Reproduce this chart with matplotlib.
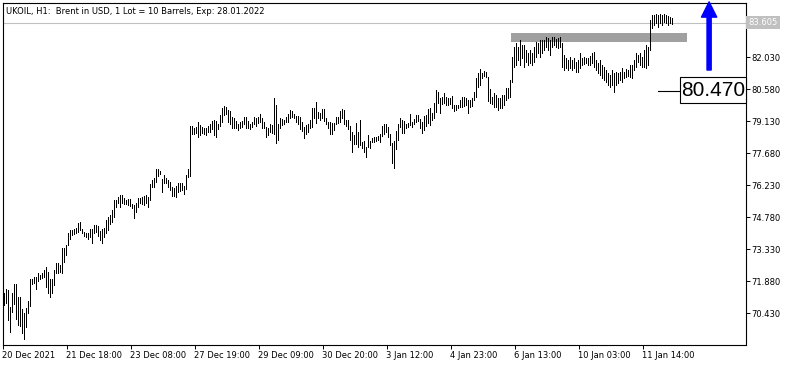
import numpy as np
import matplotlib.pyplot as plt
from matplotlib.patches import Rectangle

title = 'UKOIL, H1:  Brent in USD, 1 Lot = 10 Barrels, Exp: 28.01.2022'

# H1 bar highs / lows (20 Dec 2021 .. 11 Jan 2022)
highs = [
    # 20 - 21 Dec
    71.36, 71.54, 71.49, 70.72, 71.36, 71.77, 71.77, 71.18, 71.18, 70.63,
    70.45, 70.68, 70.99, 71.99, 71.99, 72.08, 72.08, 72.26, 72.17, 72.26,
    72.40, 72.54, 72.31, 71.99, 71.99, 72.40, 72.72, 72.72, 72.63, 73.40,
    73.40, 73.53, 74.08, 74.21, 74.21, 74.26, 74.30, 74.53, 74.57, 74.26,
    74.12, 74.08, 74.08, 74.26, 74.26, 74.44, 74.44, 74.39,
    # 21 - 27 Dec
    74.17, 74.26, 74.30, 74.66, 74.80, 74.89, 75.12, 75.57, 75.57, 75.71,
    75.80, 75.80, 75.66, 75.57, 75.61, 75.61, 75.39, 75.34, 75.43, 75.66,
    75.66, 75.71, 75.75, 75.80, 75.71, 76.30, 76.48, 76.57, 76.97, 76.97,
    76.88, 76.52, 76.70, 76.57, 76.48, 76.39, 76.16, 76.11, 76.20, 76.34,
    76.34, 76.34, 76.20, 76.70, 76.97, 78.92, 78.92, 78.83,
    # 27 - 30 Dec
    78.88, 79.10, 78.97, 78.88, 78.83, 78.83, 78.92, 79.01, 79.15, 79.19,
    79.15, 79.01, 79.42, 79.74, 79.83, 79.78, 79.65, 79.60, 79.33, 79.29,
    79.15, 79.01, 79.10, 79.15, 79.33, 79.33, 79.15, 79.01, 79.10, 79.33,
    79.29, 79.33, 79.47, 79.29, 79.10, 78.88, 78.83, 79.01, 78.97, 80.19,
    79.87, 79.01,
    # 30 Dec - 3 Jan
    79.29, 79.24, 79.19, 79.33, 79.47, 79.65, 79.60, 79.47, 79.38, 79.38,
    79.33, 79.10, 78.88, 78.97, 79.01, 79.19, 79.74, 79.74, 80.01, 79.56,
    79.51, 79.69, 79.69, 79.29, 79.10, 79.10, 79.06, 79.06, 79.33, 79.33,
    79.60, 79.69, 79.65, 79.19, 79.19, 78.92, 78.65, 78.51, 79.06, 78.65,
    79.19, 78.20, 78.24, 77.97, 78.51, 78.24, 78.38, 78.42, 78.42, 78.47,
    78.56, 78.92, 79.01, 79.01, 78.88,
    # 3 - 5 Jan
    78.56, 78.15, 78.24, 78.70, 79.01, 79.29, 79.19, 79.15, 79.01, 79.06,
    79.47, 79.10, 79.24, 79.42, 79.42, 79.24, 79.10, 79.38, 79.42, 79.69,
    79.74, 79.51, 79.96, 80.55, 80.46, 80.19, 80.24, 80.42, 80.24, 80.19,
    80.19, 80.28, 79.87, 79.87, 79.87, 80.10, 80.24, 80.24, 80.19, 80.10,
    80.10, 80.19, 80.46, 81.10, 81.32, 81.50, 81.32, 81.41, 81.37, 81.14,
    80.60, 80.24, 80.42,
    # 5 - 11 Jan
    80.33, 80.19, 80.19, 80.33, 80.33, 80.64, 80.64, 81.01, 82.05, 82.50,
    82.68, 82.50, 82.82, 82.59, 82.59, 82.37, 82.23, 82.37, 82.23, 82.50,
    82.73, 82.68, 82.82, 82.82, 82.82, 82.95, 82.91, 82.82, 82.95, 82.95,
    82.86, 82.91, 82.95, 82.68, 82.14, 82.00, 81.91, 82.05, 81.91, 82.00,
    81.82, 81.91, 82.23, 82.00, 82.05, 82.00, 82.00, 82.09, 82.23, 82.27,
    81.91, 81.78, 81.91, 81.69, 81.60, 81.46, 81.32, 81.23, 81.46, 81.32,
    81.37, 81.32, 81.37, 81.55, 81.37, 81.50, 81.46, 81.69, 81.69, 81.91,
    82.23, 82.14, 82.23, 82.05, 82.37, 82.59, 82.50, 83.72, 83.95, 83.95,
    83.99, 83.95, 83.99, 83.95, 83.99, 83.95, 83.91, 83.86, 83.81,
]

lows = [
    70.81, 70.90, 70.13, 69.59, 70.50, 70.86, 70.18, 69.91, 69.86, 69.55,
    69.27, 69.82, 70.45, 70.77, 71.77, 71.81, 71.54, 71.90, 71.99, 72.04,
    72.08, 71.63, 71.36, 71.18, 71.36, 71.72, 72.26, 72.26, 72.31, 72.26,
    72.76, 73.08, 73.53, 73.80, 73.98, 74.03, 74.08, 74.12, 74.21, 74.08,
    73.94, 73.89, 73.80, 73.89, 73.62, 74.08, 74.12, 73.94,

    73.76, 73.62, 73.89, 74.08, 74.21, 74.48, 74.57, 74.80, 75.25, 75.43,
    75.25, 75.43, 75.39, 75.39, 75.34, 75.30, 75.21, 74.75, 75.03, 75.25,
    75.43, 75.39, 75.34, 75.43, 75.25, 75.57, 76.16, 76.16, 76.39, 76.66,
    76.75, 75.93, 76.34, 76.34, 76.16, 76.02, 75.75, 75.75, 75.71, 75.93,
    75.98, 76.02, 75.84, 76.07, 76.61, 76.66, 78.55, 78.55,

    78.60, 78.42, 78.51, 78.60, 78.55, 78.51, 78.65, 78.65, 78.79, 78.51,
    78.42, 78.79, 78.92, 79.10, 79.42, 79.47, 79.10, 79.01, 78.83, 78.83,
    78.83, 78.74, 78.83, 78.88, 79.01, 78.83, 78.83, 78.79, 78.88, 79.01,
    78.92, 79.06, 79.10, 78.83, 78.83, 78.42, 78.51, 78.65, 78.60, 78.55,
    78.15, 78.29,

    78.83, 78.97, 79.01, 79.10, 79.10, 79.29, 79.33, 79.29, 79.10, 79.01,
    78.79, 78.70, 78.38, 78.55, 78.65, 78.83, 78.88, 79.29, 79.06, 79.29,
    79.19, 79.29, 79.15, 79.01, 78.83, 78.55, 78.55, 78.74, 79.01, 79.06,
    79.10, 79.29, 79.01, 78.92, 78.79, 78.29, 77.74, 78.11, 78.11, 77.97,
    78.06, 77.93, 77.74, 77.52, 77.97, 77.93, 78.20, 78.20, 78.24, 78.29,
    78.20, 78.47, 78.56, 78.65, 78.42,

    78.06, 77.25, 77.02, 77.88, 78.29, 78.88, 78.60, 78.60, 78.83, 78.88,
    78.97, 78.88, 79.01, 79.10, 79.15, 78.83, 78.60, 78.74, 78.92, 79.06,
    78.97, 79.19, 79.29, 79.56, 79.96, 79.51, 79.92, 79.96, 79.87, 79.87,
    79.92, 79.74, 79.60, 79.65, 79.74, 79.78, 79.78, 79.83, 79.87, 79.51,
    79.78, 79.83, 80.10, 80.24, 80.69, 80.78, 81.10, 81.19, 81.14, 80.05,
    79.96, 79.92, 79.78,

    79.78, 79.65, 79.74, 79.74, 79.87, 80.10, 80.19, 80.24, 80.92, 81.60,
    81.69, 81.91, 81.69, 82.00, 81.60, 81.82, 81.69, 81.78, 81.69, 81.82,
    82.05, 82.23, 82.05, 82.23, 82.37, 82.50, 82.37, 82.14, 82.50, 82.59,
    82.50, 82.46, 82.50, 81.60, 81.46, 81.55, 81.46, 81.55, 81.46, 81.55,
    81.37, 81.37, 81.55, 81.69, 81.73, 81.78, 81.69, 81.69, 81.78, 81.60,
    81.46, 81.32, 81.23, 81.10, 81.01, 80.92, 80.78, 80.69, 80.78, 80.46,
    80.78, 80.87, 81.01, 80.92, 81.10, 81.14, 81.19, 81.14, 81.10, 81.46,
    81.60, 81.82, 81.69, 81.60, 81.60, 81.55, 81.69, 82.37, 83.36, 83.50,
    83.59, 83.41, 83.59, 83.50, 83.63, 83.59, 83.50, 83.59, 83.54,
]

time_labels = ['20 Dec 2021', '21 Dec 18:00', '23 Dec 08:00', '27 Dec 19:00',
               '29 Dec 09:00', '30 Dec 20:00', '3 Jan 12:00', '4 Jan 23:00',
               '6 Jan 13:00', '10 Jan 03:00', '11 Jan 14:00']
bars_per_label = 32
price_ticks = [70.43, 71.88, 73.33, 74.78, 76.23, 77.68, 79.13, 80.58, 82.03, 83.48]

last_price = 83.605
zone_low, zone_high = 82.74, 83.12      # grey resistance zone
zone_start, zone_end = 254, 342         # in bars
target_price = 80.470
target_y = 80.53
arrow_bar, arrow_from, arrow_to = 353.3, 81.46, 84.55

x = np.arange(len(highs)) + 0.75

fig = plt.figure(figsize=(7.93, 3.66), dpi=100)
ax = fig.add_axes([2.5 / 793, 21 / 366, 743 / 793, 342.5 / 366])

ax.axhline(last_price, color='#c0c0c0', lw=0.8, zorder=1)
ax.add_patch(Rectangle((zone_start, zone_low), zone_end - zone_start, zone_high - zone_low,
                       color='#a0a0a0', lw=0, zorder=1.5))
ax.vlines(x, lows, highs, colors='black', lw=0.6, antialiased=False, zorder=2)

# blue arrow
ax.annotate('', xy=(arrow_bar, arrow_to), xytext=(arrow_bar, arrow_from),
            arrowprops=dict(arrowstyle='simple,head_length=1.1,head_width=1.1,tail_width=0.3',
                            color='#0000ff', shrinkA=0, shrinkB=0, mutation_scale=10),
            annotation_clip=False, zorder=4)

# target label
ax.plot([327.75, 338.75], [target_y, target_y], color='black', lw=0.8, zorder=3)
ax.add_patch(Rectangle((338.75, 79.96), 371.5 - 338.75, 81.14 - 79.96,
                       facecolor='white', edgecolor='black', lw=0.8, zorder=3, clip_on=False))
ax.text((338.75 + 371.5) / 2, target_y, f'{target_price:.3f}', fontsize=15,
        family='Liberation Sans', ha='center', va='center', zorder=4)

ax.set_xlim(0, 371.5)
ax.set_ylim(69.0, 84.52)

ax.set_xticks(np.arange(len(time_labels)) * bars_per_label)
ax.set_xticklabels(time_labels, fontsize=6, ha='left')
ax.tick_params(axis='x', direction='out', length=3, width=0.7, pad=1)

ax.yaxis.tick_right()
ax.set_yticks(price_ticks)
# the top tick label sits under the last-price box
ax.set_yticklabels([f'{p:.3f}' for p in price_ticks[:-1]] + [''], fontsize=6)
ax.tick_params(axis='y', direction='out', length=3, width=0.7, pad=1)

for s in ax.spines.values():
    s.set_linewidth(0.8)

ax.text(1.004, last_price, f'{last_price:.3f}', transform=ax.get_yaxis_transform(),
        fontsize=6, color='white', ha='left', va='center', zorder=5, clip_on=False,
        bbox=dict(boxstyle='square,pad=0.25', facecolor='#c0c0c0', edgecolor='none'))

ax.text(0.005, 0.975, title, transform=ax.transAxes, fontsize=6, ha='left', va='center',
        zorder=5, bbox=dict(boxstyle='square,pad=0.2', facecolor='white', edgecolor='none'))

fig.savefig('out.png', dpi=100)
